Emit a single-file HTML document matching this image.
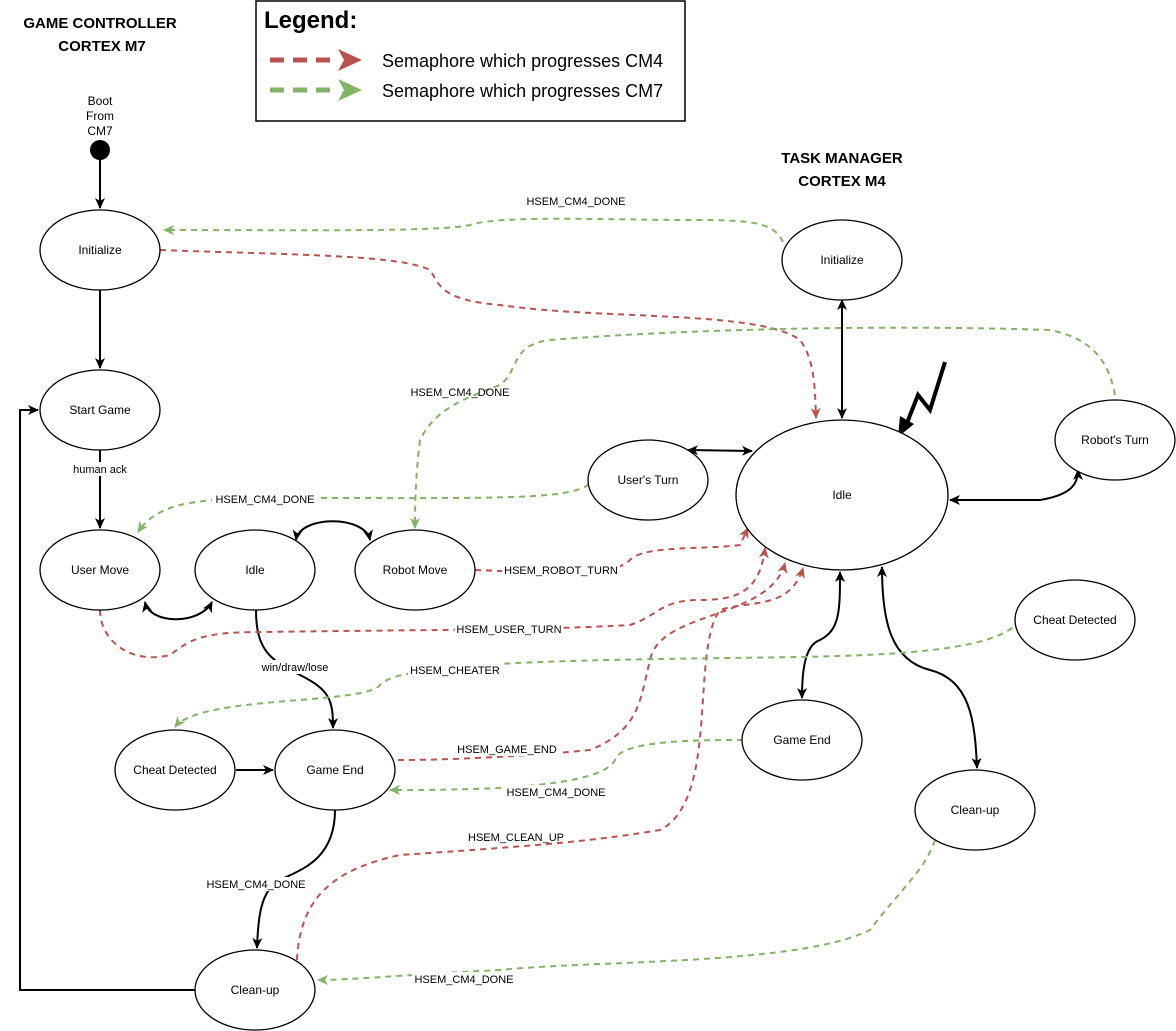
<!DOCTYPE html>
<html><head><meta charset="utf-8"><style>
html,body{margin:0;padding:0;background:#fff;}
svg{display:block;font-family:"Liberation Sans",sans-serif;}
</style></head><body>
<svg width="1176" height="1031" viewBox="0 0 1176 1031" xmlns="http://www.w3.org/2000/svg">
<defs>
<marker id="ab" markerWidth="12" markerHeight="12" refX="10" refY="6" orient="auto" markerUnits="userSpaceOnUse"><path d="M0,1 L11,6 L0,11 L3,6 Z" fill="#000"/></marker>
<marker id="abs" markerWidth="12" markerHeight="12" refX="2" refY="6" orient="auto" markerUnits="userSpaceOnUse"><path d="M12,1 L1,6 L12,11 L9,6 Z" fill="#000"/></marker>
<marker id="ar" markerWidth="12" markerHeight="12" refX="10" refY="6" orient="auto" markerUnits="userSpaceOnUse"><path d="M0,1 L11,6 L0,11 L3,6 Z" fill="#b85450"/></marker>
<marker id="ag" markerWidth="12" markerHeight="12" refX="10" refY="6" orient="auto" markerUnits="userSpaceOnUse"><path d="M0,1 L11,6 L0,11 L3,6 Z" fill="#82b366"/></marker>
</defs>
<g font-weight="bold" font-size="15" text-anchor="middle">
<text x="100" y="28">GAME CONTROLLER</text><text x="102" y="51">CORTEX M7</text>
<text x="842" y="163">TASK MANAGER</text><text x="842" y="186">CORTEX M4</text>
</g>
<rect x="256" y="1" width="429" height="120" fill="#fff" stroke="#000" stroke-width="1.5"/>
<text x="264" y="28" font-size="24" font-weight="bold">Legend:</text>
<line x1="270" y1="60" x2="336" y2="60" stroke="#b85450" stroke-width="5" stroke-dasharray="14,9"/>
<path d="M338,49 L362,60 L338,71 L344,60Z" fill="#b85450"/>
<line x1="270" y1="90" x2="336" y2="90" stroke="#82b366" stroke-width="5" stroke-dasharray="14,9"/>
<path d="M338,79 L362,90 L338,101 L344,90Z" fill="#82b366"/>
<text x="382" y="67" font-size="18">Semaphore which progresses CM4</text>
<text x="382" y="97" font-size="18">Semaphore which progresses CM7</text>

<g font-size="12" text-anchor="middle"><text x="100" y="105">Boot</text><text x="100" y="120">From</text><text x="100" y="135">CM7</text></g>
<circle cx="100" cy="150" r="10" fill="#000"/>

<g fill="none" stroke="#000" stroke-width="2">
<line x1="100" y1="160" x2="100" y2="208" marker-end="url(#ab)"/>
<line x1="100" y1="290" x2="100" y2="368" marker-end="url(#ab)"/>
<line x1="100" y1="450" x2="100" y2="528" marker-end="url(#ab)"/>
<path d="M195,990 L20,990 L20,410 L38,410" marker-end="url(#ab)"/>
<path d="M145,602 C150,625 200,625 212,602" marker-start="url(#abs)" marker-end="url(#ab)"/>
<path d="M296,540 C300,515 365,515 370,540" marker-start="url(#abs)" marker-end="url(#ab)"/>
<path d="M256,610 C256,650 270,660 300,675 C330,690 333,700 333,728" marker-end="url(#ab)"/>
<line x1="236" y1="770" x2="273" y2="770" marker-end="url(#ab)"/>
<path d="M335,810 C335,860 300,870 280,880 C260,890 258,920 257,948" marker-end="url(#ab)"/>
<line x1="842" y1="300" x2="842" y2="418" marker-start="url(#abs)" marker-end="url(#ab)"/>
<line x1="688" y1="450" x2="752" y2="451" marker-start="url(#abs)" marker-end="url(#ab)"/>
<path d="M950,500 L1040,500 C1070,495 1078,485 1078,470" marker-start="url(#abs)" marker-end="url(#ab)"/>
<path d="M840,572 C840,610 840,630 820,640 C805,645 802,670 802,698" marker-start="url(#abs)" marker-end="url(#ab)"/>
<path d="M882,567 C882,620 890,660 930,670 C970,680 975,720 977,768" marker-start="url(#abs)" marker-end="url(#ab)"/>
<path d="M945,362 L930,410 L918,395 L905,428" stroke-width="4"/>
</g>
<path d="M898,437 L900,416 L914,424Z" fill="#000"/>

<g fill="none" stroke="#b85450" stroke-width="2" stroke-dasharray="6,5">
<path d="M160,250 C300,255 400,255 430,270 C440,285 440,300 500,305 C600,320 760,310 800,340 C815,360 815,390 816,418" marker-end="url(#ar)"/>
<path d="M475,570 C600,575 620,570 630,560 C645,545 700,550 740,545 L748,528" marker-end="url(#ar)"/>
<path d="M100,610 C100,640 130,665 170,655 C190,640 200,632 260,632 C400,630 550,630 630,625 C660,615 660,600 700,600 C740,600 760,590 765,548" marker-end="url(#ar)"/>
<path d="M398,760 C460,760 540,755 590,750 C640,730 640,700 650,660 C660,610 770,620 785,563" marker-end="url(#ar)"/>
<path d="M297,960 C300,900 330,870 400,855 C550,845 600,840 660,830 C720,800 690,650 720,610 C750,600 790,610 803,568" marker-end="url(#ar)"/>
</g>
<g fill="none" stroke="#82b366" stroke-width="2" stroke-dasharray="6,5">
<path d="M783,242 C775,225 760,220 700,220 C600,220 500,215 470,225 C440,232 300,230 164,230" marker-end="url(#ag)"/>
<path d="M1115,395 C1110,370 1100,340 1050,330 C900,325 700,328 550,340 C510,345 520,370 500,385 C460,400 435,410 420,440 C415,480 415,510 415,528" marker-end="url(#ag)"/>
<path d="M589,484 C570,500 500,498 300,498 C200,498 160,500 138,532" marker-end="url(#ag)"/>
<path d="M1020,620 C1000,650 900,655 800,657 C600,660 400,660 380,685 C365,705 200,695 175,727" marker-end="url(#ag)"/>
<path d="M743,740 C700,740 620,740 615,760 C600,790 460,790 390,790" marker-end="url(#ag)"/>
<path d="M935,840 C925,870 900,890 870,930 C800,965 600,960 500,970 C400,975 350,980 318,980" marker-end="url(#ag)"/>
</g>

<g fill="#fff" stroke="#000" stroke-width="1.3">
<ellipse cx="100" cy="250" rx="60" ry="40"/><ellipse cx="100" cy="410" rx="60" ry="40"/>
<ellipse cx="100" cy="570" rx="60" ry="40"/><ellipse cx="255" cy="570" rx="60" ry="40"/>
<ellipse cx="415" cy="570" rx="60" ry="40"/><ellipse cx="175" cy="770" rx="60" ry="40"/>
<ellipse cx="335" cy="770" rx="60" ry="40"/><ellipse cx="255" cy="990" rx="60" ry="40"/>
<ellipse cx="842" cy="260" rx="60" ry="40"/><ellipse cx="842" cy="495" rx="106" ry="75"/>
<ellipse cx="648" cy="480" rx="60" ry="40"/><ellipse cx="1115" cy="440" rx="60" ry="40"/>
<ellipse cx="1075" cy="620" rx="60" ry="40"/><ellipse cx="802" cy="740" rx="60" ry="40"/>
<ellipse cx="975" cy="810" rx="60" ry="40"/>
</g>
<g font-size="12" text-anchor="middle">
<text x="100" y="254">Initialize</text><text x="100" y="414">Start Game</text>
<text x="100" y="574">User Move</text><text x="255" y="574">Idle</text>
<text x="415" y="574">Robot Move</text><text x="175" y="774">Cheat Detected</text>
<text x="335" y="774">Game End</text><text x="255" y="994">Clean-up</text>
<text x="842" y="264">Initialize</text><text x="842" y="499">Idle</text>
<text x="648" y="484">User's Turn</text><text x="1115" y="444">Robot's Turn</text>
<text x="1075" y="624">Cheat Detected</text><text x="802" y="744">Game End</text>
<text x="975" y="814">Clean-up</text>
</g>
<g font-size="11" text-anchor="middle">
<g fill="#fff"><rect x="70" y="462" width="60" height="14"/><rect x="212" y="492" width="106" height="14"/><rect x="502" y="563" width="118" height="14"/><rect x="455" y="622" width="108" height="14"/><rect x="408" y="663" width="94" height="14"/><rect x="455" y="742" width="104" height="14"/><rect x="505" y="785" width="102" height="14"/><rect x="205" y="877" width="102" height="14"/><rect x="412" y="972" width="104" height="14"/><rect x="255" y="660" width="80" height="14"/></g>
<text x="100" y="473">human ack</text>
<text x="576" y="205">HSEM_CM4_DONE</text>
<text x="460" y="396">HSEM_CM4_DONE</text>
<text x="265" y="503">HSEM_CM4_DONE</text>
<text x="561" y="574">HSEM_ROBOT_TURN</text>
<text x="509" y="633">HSEM_USER_TURN</text>
<text x="295" y="671">win/draw/lose</text>
<text x="455" y="674">HSEM_CHEATER</text>
<text x="507" y="753">HSEM_GAME_END</text>
<text x="556" y="796">HSEM_CM4_DONE</text>
<text x="516" y="841">HSEM_CLEAN_UP</text>
<text x="256" y="888">HSEM_CM4_DONE</text>
<text x="464" y="983">HSEM_CM4_DONE</text>
</g>
</svg>
</body></html>
